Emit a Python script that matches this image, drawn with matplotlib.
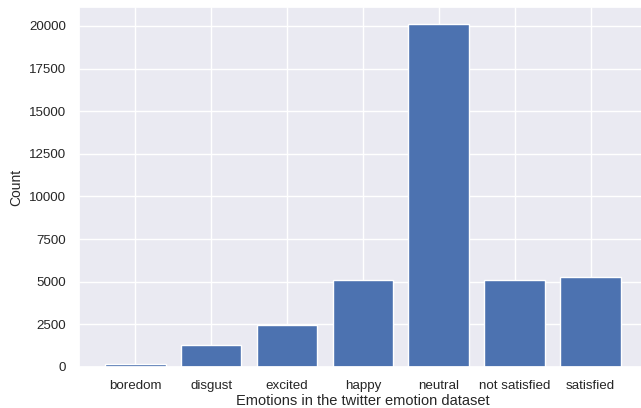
import matplotlib
matplotlib.use("Agg")
import matplotlib.pyplot as plt
import seaborn as sns

categories = ["boredom", "disgust", "excited", "happy", "neutral", "not satisfied", "satisfied"]
counts = [150, 1310, 2440, 5100, 20100, 5100, 5290]

sns.set_theme(style="darkgrid")
plt.rcParams['font.family'] = ['Liberation Sans', 'DejaVu Sans']

fig = plt.figure(figsize=(6.41, 4.08), dpi=100)
ax = fig.add_axes([0.1232, 0.1005, 0.886, 0.8823])
ax.bar(categories, counts, color="#4C72B0")
ax.set_xlabel("Emotions in the twitter emotion dataset", fontsize=10.5, labelpad=1)
ax.set_ylabel("Count", fontsize=10)
ax.tick_params(labelsize=9.6)
fig.savefig("out.png", dpi=100)
